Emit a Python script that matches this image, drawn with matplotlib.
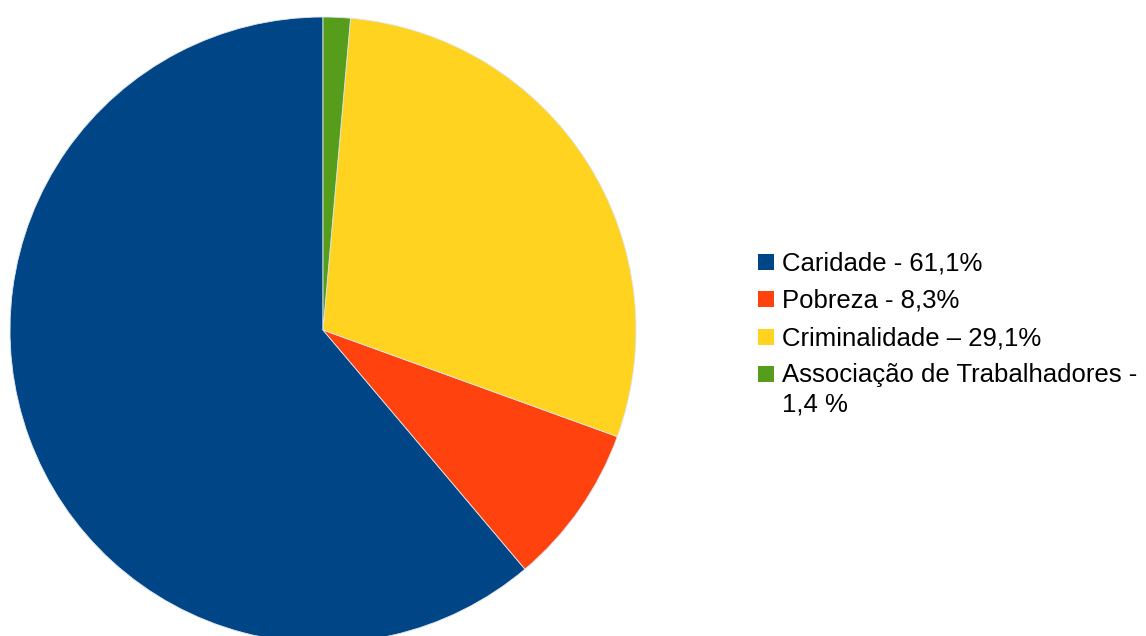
import numpy as np
import matplotlib.pyplot as plt
from matplotlib.patches import Rectangle

plt.rcParams['font.family'] = ['Liberation Sans', 'DejaVu Sans']

labels = ['Caridade - 61,1%', 'Pobreza - 8,3%', 'Criminalidade \u2013 29,1%',
          'Associa\u00e7\u00e3o de Trabalhadores -\n1,4 %']
values = [61.1, 8.3, 29.1, 1.4]
colors = ['#004586', '#ff420e', '#ffd320', '#579d1c']

W, H = 1146, 636
fig = plt.figure(figsize=(W / 100, H / 100), dpi=100)

# pie centre (323, 330) px, radius 313 px
cx, cy, r = 323, 330, 313
ax = fig.add_axes([(cx - r) / W, (H - cy - r) / H, 2 * r / W, 2 * r / H])
ax.pie(values, colors=colors, startangle=90, counterclock=True, radius=1,
       wedgeprops=dict(linewidth=0.6, edgecolor='#dde6ee'))
ax.set_xlim(-1, 1)
ax.set_ylim(-1, 1)
ax.set_aspect('equal')
ax.axis('off')

# legend drawn by hand so the square sits beside the first line of a wrapped label
sq = 16
for i, (lab, col) in enumerate(zip(labels, colors)):
    top = 254 + 37.3 * i
    fig.patches.append(Rectangle((758 / W, 1 - (top + sq) / H), sq / W, sq / H,
                                 transform=fig.transFigure, facecolor=col,
                                 edgecolor='none'))
    for j, line in enumerate(lab.split('\n')):
        fig.text(782 / W, 1 - (top + 16.5 + 29 * j) / H, line, fontsize=18.5,
                 va='baseline', ha='left')

fig.savefig('out.png', dpi=100)
